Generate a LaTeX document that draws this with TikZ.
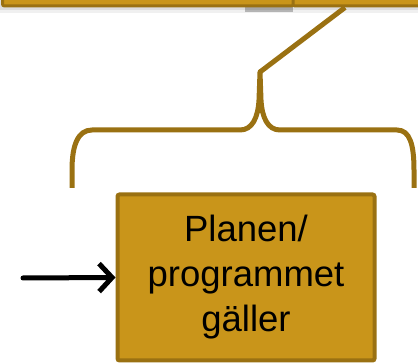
\documentclass[tikz,border=0pt]{standalone}
\usepackage{fontspec}
\setmainfont{Liberation Sans}
\usetikzlibrary{arrows.meta}

\definecolor{goldfill}{RGB}{201,149,26}
\definecolor{golddraw}{RGB}{154,113,18}

\begin{document}
\begin{tikzpicture}[x=1pt,y=1pt,yscale=-1,xscale=1]
\useasboundingbox (0,0) rectangle (418,363);

%Shape: Shadow of top boxes
\fill [black,opacity=0.06] (0,0) rectangle (418,13);
\fill [black,opacity=0.08] (0,0) rectangle (418,10);
\fill [black,opacity=0.25] (245,0) rectangle (293,12);
%Shape: Rectangle [top boxes]
\node (topleft) [draw=golddraw,fill=goldfill,line width=3pt,rounded corners=2pt,minimum width=291pt,minimum height=30pt,inner sep=0pt] at (148,-9) {};
\node (topright) [draw=golddraw,fill=goldfill,line width=3pt,rounded corners=2pt,minimum width=130pt,minimum height=30pt,inner sep=0pt] at (358,-9) {};

%Shape: Brace
\coordinate (tip) at (260,72);
\draw [color=golddraw,line width=5pt,line join=round] (72,188) -- (72,170) .. controls (72,145) and (78,130) .. (92,130) -- (240,130) .. controls (252,130) and (258,118) .. (259,100) -- (tip) -- (261,100) .. controls (262,118) and (268,130) .. (280,130) -- (397,130) .. controls (410,130) and (414,145) .. (414,170) -- (414,188) ;
%Straight Lines
\draw [color=golddraw,line width=5pt] (tip) -- (topleft.south -| 345,0) ;

% Text Node
\node (plan) [draw=golddraw,fill=goldfill,line width=4pt,rounded corners=2pt,minimum width=257pt,minimum height=166pt,align=center,font=\fontsize{36.5}{45}\selectfont] at (246,277.5) {Planen/\\programmet\\gäller};

%Straight Lines [arrow]
\coordinate (in) at (23,278);
\draw [-{Straight Barb[length=13pt,width=28pt]},line width=5pt,line cap=round,line join=round] (in) -- (plan.west) ;

\end{tikzpicture}
\end{document}
